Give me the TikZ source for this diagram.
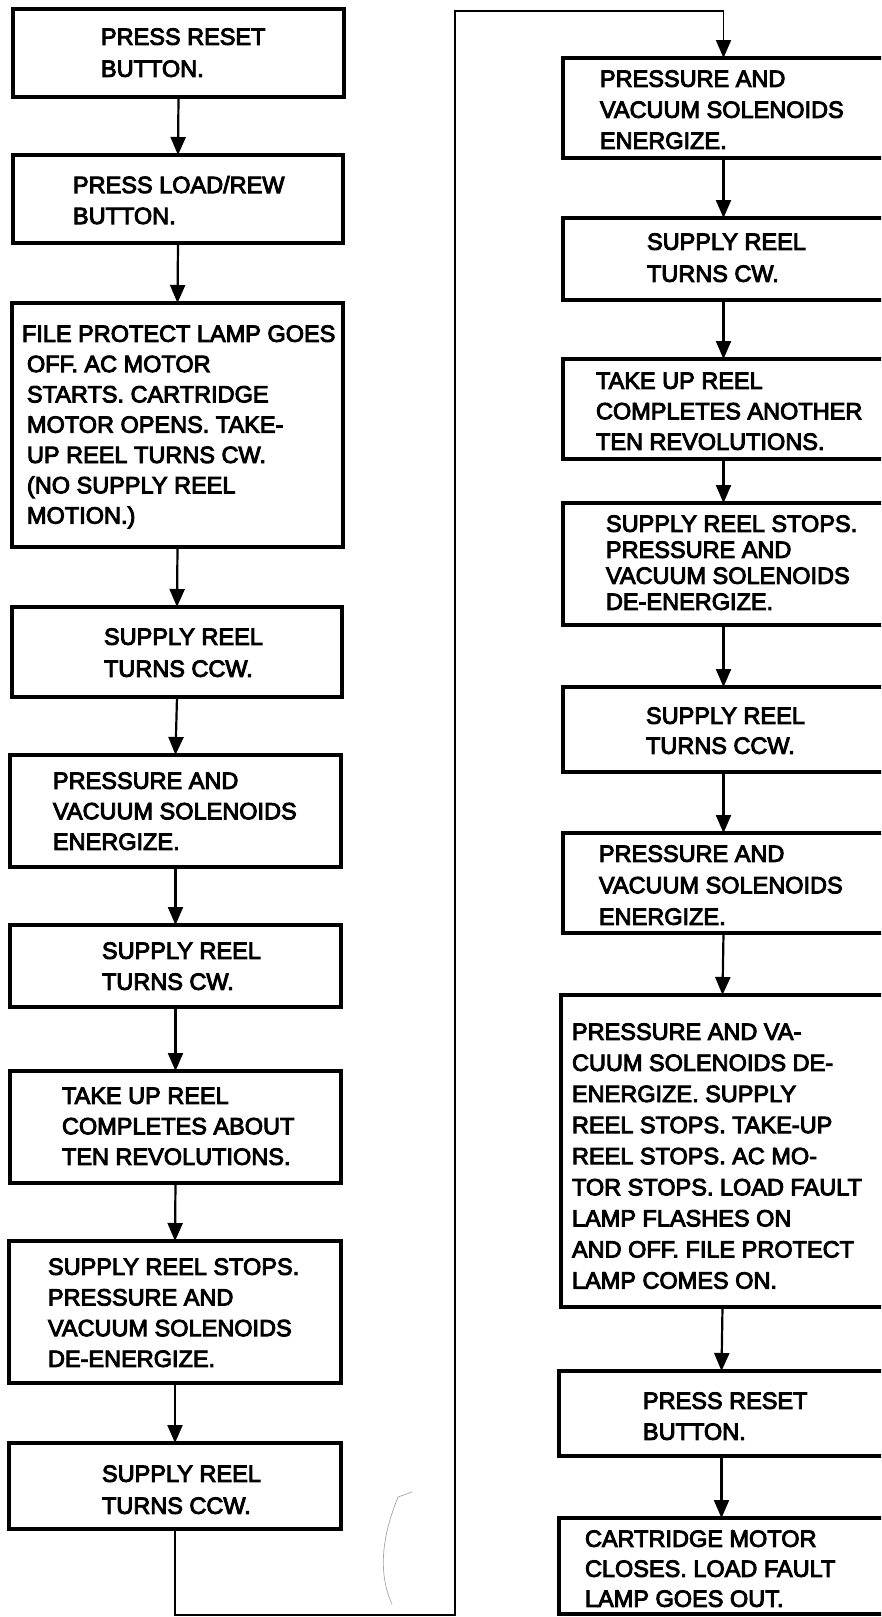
\documentclass[tikz,border=0pt]{standalone}
\usepackage{fontspec}
\setmainfont{Liberation Sans}[UprightFeatures={FakeBold=4}]
\usetikzlibrary{arrows.meta}
\newcommand{\capstrut}{\rule{0pt}{16.8pt}}
% box given by its corners (x1,y1) and (x2,y2), in page points from the top left
\newcommand{\flowbox}[5]{%
  \node[stepbox, minimum width={#4pt-#2pt}, minimum height={#5pt-#3pt}]
    (#1) at ({(#2+#4)/2},{(#3+#5)/2}) {};}
% text block: name, left x, cap top y, line spacing, lines
\newcommand{\flowtext}[5]{%
  \node[steptext, font={\fontsize{23.5}{#4}\selectfont}] (#1) at (#2,#3) {\capstrut #5};}
\tikzset{
  stepbox/.style={draw=black, line width=3.3pt, rectangle, inner sep=0pt, outer sep=0pt},
  steptext/.style={anchor=north west, align=left, inner sep=0pt, outer sep=0pt, text=black},
  tip/.style={-{Triangle[length=18pt,width=15pt]}},
  conn/.style={draw=black, line width=2.2pt, tip},
  loopline/.style={draw=black, line width=1.9pt, tip},
}
\begin{document}
\begin{tikzpicture}[x=1pt,y=-1pt]
\useasboundingbox (0,0) rectangle (881,1617);
\clip (0,0) rectangle (881,1617);
\fill[white] (0,0) rectangle (881,1617);

% left column
\flowbox{L1}{13}{9}{344}{97}
\flowbox{L2}{13}{155}{343}{243}
\flowbox{L3}{12}{303}{343}{547}
\flowbox{L4}{12}{607}{342}{697}
\flowbox{L5}{10}{755}{341}{867}
\flowbox{L6}{10}{925}{341}{1007}
\flowbox{L7}{10}{1071}{341}{1183}
\flowbox{L8}{9}{1241}{341}{1383}
\flowbox{L9}{9}{1443}{341}{1529}

\flowtext{tL1}{101}{28}{32}{PRESS RESET\\BUTTON.}
\flowtext{tL2}{73}{176}{31}{PRESS LOAD/REW\\BUTTON.}
\flowtext{tL3}{27}{325}{30.3}{\hspace*{-5pt}FILE PROTECT LAMP GOES\\OFF. AC MOTOR\\STARTS. CARTRIDGE\\MOTOR OPENS. TAKE-\\UP REEL TURNS CW.\\(NO SUPPLY REEL\\MOTION.)}
\flowtext{tL4}{104}{628}{32}{SUPPLY REEL\\TURNS CCW.}
\flowtext{tL5}{53}{772}{30.5}{PRESSURE AND\\VACUUM SOLENOIDS\\ENERGIZE.}
\flowtext{tL6}{102}{942}{31}{SUPPLY REEL\\TURNS CW.}
\flowtext{tL7}{62}{1087}{30.5}{TAKE UP REEL\\COMPLETES ABOUT\\TEN REVOLUTIONS.}
\flowtext{tL8}{48}{1258}{30.7}{SUPPLY REEL STOPS.\\PRESSURE AND\\VACUUM SOLENOIDS\\DE-ENERGIZE.}
\flowtext{tL9}{102}{1465}{32}{SUPPLY REEL\\TURNS CCW.}

% right column
\flowbox{R1}{563}{58}{884}{158}
\flowbox{R2}{563}{218}{884}{300}
\flowbox{R3}{563}{359}{884}{459}
\flowbox{R4}{563}{503}{884}{625}
\flowbox{R5}{563}{687}{884}{772}
\flowbox{R6}{563}{833}{884}{933}
\flowbox{R7}{561}{995}{884}{1307}
\flowbox{R8}{559}{1371}{884}{1456}
\flowbox{R9}{559}{1518}{884}{1614}

\flowtext{tR1}{600}{70}{31}{PRESSURE AND\\VACUUM SOLENOIDS\\ENERGIZE.}
\flowtext{tR2}{647}{233}{32}{SUPPLY REEL\\TURNS CW.}
\flowtext{tR3}{596}{372}{30.5}{TAKE UP REEL\\COMPLETES ANOTHER\\TEN REVOLUTIONS.}
\flowtext{tR4}{606}{515}{26}{SUPPLY REEL STOPS.\\PRESSURE AND\\VACUUM SOLENOIDS\\DE-ENERGIZE.}
\flowtext{tR5}{646}{707}{30}{SUPPLY REEL\\TURNS CCW.}
\flowtext{tR6}{599}{845}{31.5}{PRESSURE AND\\VACUUM SOLENOIDS\\ENERGIZE.}
\flowtext{tR7}{572}{1023}{31.1}{PRESSURE AND VA-\\CUUM SOLENOIDS DE-\\ENERGIZE. SUPPLY\\REEL STOPS. TAKE-UP\\REEL STOPS. AC MO-\\TOR STOPS. LOAD FAULT\\LAMP FLASHES ON\\AND OFF. FILE PROTECT\\LAMP COMES ON.}
\flowtext{tR8}{643}{1392}{31}{PRESS RESET\\BUTTON.}
\flowtext{tR9}{585}{1530}{30}{CARTRIDGE MOTOR\\CLOSES. LOAD FAULT\\LAMP GOES OUT.}

% connectors
\foreach \a/\b in {L1/L2,L2/L3,L3/L4,L4/L5,L5/L6,L6/L7,L7/L8,L8/L9,
                   R1/R2,R2/R3,R3/R4,R4/R5,R5/R6,R6/R7,R7/R8,R8/R9}
  \draw[conn] (\a.south) -- (\b.north);

% return path from the bottom of the left column to the top of the right one
\coordinate (loopbr) at (455,1615);
\coordinate (looptr) at (455,11);
\draw[loopline] (L9.south) |- (loopbr) -- (looptr) -| (R1.north);

% pencil mark
\draw[gray!70, line width=0.7pt] (412,1492) -- (398,1497)
  .. controls (388,1522) and (374,1565) .. (392,1604);
\end{tikzpicture}
\end{document}
